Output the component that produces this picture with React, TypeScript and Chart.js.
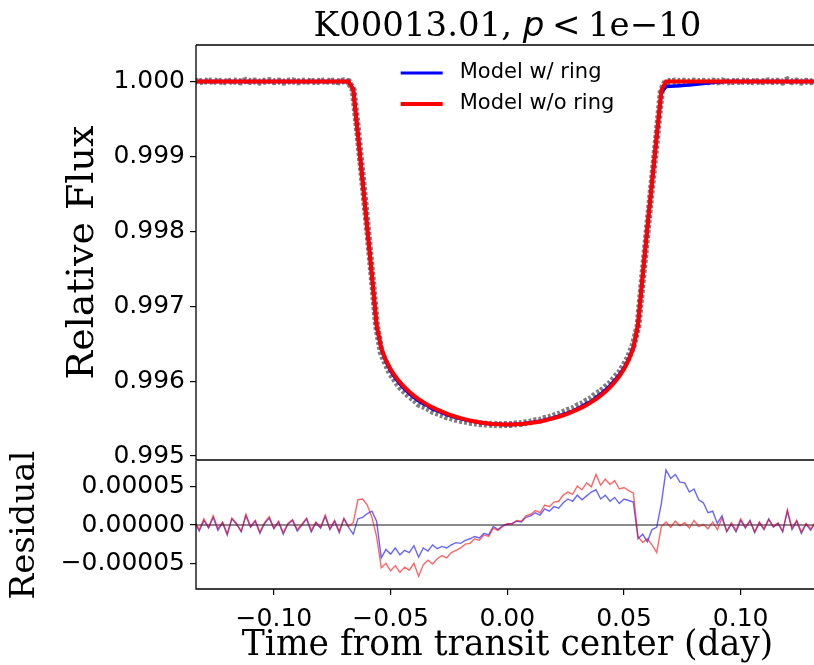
import React, { useEffect, useRef } from "react";
import { Chart, registerables } from "chart.js";

Chart.register(...registerables);

// ---------- text ----------
const TITLE_NAME = "K00013.01, ";
const TITLE_VAR = "p";
const TITLE_REL = "<";
const TITLE_VALUE = "1e\u221210";
const Y_TITLE_TOP = "Relative Flux";
const Y_TITLE_BOTTOM = "Residual";
const X_TITLE = "Time from transit center (day)";
const LEGEND_LABELS = ["Model w/ ring", "Model w/o ring"];

// ---------- data ----------
// time from transit center (day)
const times = [
  -0.134, -0.132, -0.13, -0.128, -0.126, -0.124, -0.122, -0.12, -0.118, -0.116,
  -0.114, -0.112, -0.11, -0.108, -0.106, -0.104, -0.102, -0.1, -0.098, -0.096,
  -0.094, -0.092, -0.09, -0.088, -0.086, -0.084, -0.082, -0.08, -0.078, -0.076,
  -0.074, -0.072, -0.07, -0.068, -0.066, -0.064, -0.062, -0.06, -0.058, -0.056,
  -0.054, -0.052, -0.05, -0.048, -0.046, -0.044, -0.042, -0.04, -0.038, -0.036,
  -0.034, -0.032, -0.03, -0.028, -0.026, -0.024, -0.022, -0.02, -0.018, -0.016,
  -0.014, -0.012, -0.01, -0.008, -0.006, -0.004, -0.002, 0.0, 0.002, 0.004,
  0.006, 0.008, 0.01, 0.012, 0.014, 0.016, 0.018, 0.02, 0.022, 0.024,
  0.026, 0.028, 0.03, 0.032, 0.034, 0.036, 0.038, 0.04, 0.042, 0.044,
  0.046, 0.048, 0.05, 0.052, 0.054, 0.056, 0.058, 0.06, 0.062, 0.064,
  0.066, 0.068, 0.07, 0.072, 0.074, 0.076, 0.078, 0.08, 0.082, 0.084,
  0.086, 0.088, 0.09, 0.092, 0.094, 0.096, 0.098, 0.1, 0.102, 0.104,
  0.106, 0.108, 0.11, 0.112, 0.114, 0.116, 0.118, 0.12, 0.122, 0.124,
  0.126, 0.128, 0.13, 0.132, 0.134,
];

// transit depth of the model without ring (ppm)
const depthNoRingPpm = [
  0, 0, 0, 0, 0, 0, 0, 0, 0, 0,
  0, 0, 0, 0, 0, 0, 0, 0, 0, 0,
  0, 0, 0, 0, 0, 0, 0, 0, 0, 0,
  0, 0, 0, 0, 120, 720, 1340, 1960, 2590, 3250,
  3560, 3720, 3840, 3935, 4014, 4083, 4142, 4194, 4240, 4281,
  4318, 4351, 4381, 4408, 4433, 4456, 4476, 4494, 4510, 4525,
  4538, 4549, 4558, 4566, 4572, 4576, 4579, 4580, 4579, 4576,
  4572, 4566, 4558, 4549, 4538, 4525, 4510, 4494, 4476, 4456,
  4433, 4408, 4381, 4351, 4318, 4281, 4240, 4194, 4142, 4083,
  4014, 3935, 3840, 3720, 3560, 3250, 2590, 1960, 1340, 720,
  120, 0, 0, 0, 0, 0, 0, 0, 0, 0,
  0, 0, 0, 0, 0, 0, 0, 0, 0, 0,
  0, 0, 0, 0, 0, 0, 0, 0, 0, 0,
  0, 0, 0, 0, 0,
];

// transit depth of the model with ring (ppm)
const depthRingPpm = [
  0, 0, 0, 0, 0, 0, 0, 0, 0, 0,
  0, 0, 0, 0, 0, 0, 0, 0, 0, 0,
  0, 0, 0, 0, 0, 0, 0, 0, 0, 0,
  0, 0, 0, 0, 105, 695, 1316, 1949, 2598, 3270,
  3573, 3738, 3862, 3958, 4037, 4105, 4165, 4217, 4263, 4303,
  4330, 4375, 4394, 4420, 4446, 4466, 4486, 4500, 4515, 4531,
  4541, 4552, 4560, 4568, 4574, 4577, 4580, 4579, 4580, 4575,
  4571, 4564, 4556, 4546, 4535, 4520, 4504, 4488, 4467, 4446,
  4424, 4399, 4369, 4338, 4301, 4274, 4220, 4176, 4121, 4061,
  3992, 3916, 3825, 3707, 3548, 3247, 2601, 1956, 1360, 753,
  150, 68, 64, 61, 57, 52, 47, 41, 35, 28,
  21, 14, 8, 3, 0, 0, 0, 0, 0, 0,
  0, 0, 0, 0, 0, 0, 0, 0, 0, 0,
  0, 0, 0, 0, 0,
];

// residuals (units of 1e-5)
const residNoRing = [
  0.5, -0.6, 0.8, -0.3, 1.2, -0.5, 0.4, -1.1, 0.9, 0.2,
  -0.8, 1.4, -0.2, 0.6, -0.9, 0.3, 1.1, -0.4, 0.5, -1.0,
  0.2, 0.7, -0.6, 0.1, 0.9, -0.7, 0.4, -0.3, 1.3, -0.5,
  0.6, -0.8, 0.9, -0.2, 0.3, 3.3, 3.4, 2.6, 1.0, -1.5,
  -5.6, -5.0, -6.0, -5.3, -6.2, -5.5, -5.9, -5.0, -6.7, -5.2,
  -4.6, -5.1, -4.4, -4.0, -4.3, -3.6, -3.3, -3.0, -2.5, -2.4,
  -1.8, -2.0, -1.3, -1.5, -0.4, -0.7, -0.2, 0.2, 0.1, 0.6,
  0.5, 1.2, 1.4, 1.9, 1.6, 2.6, 2.4, 3.0, 3.1, 3.9,
  4.3, 4.0, 5.1, 4.6, 5.5, 5.0, 6.6, 5.2, 6.0, 5.3,
  5.8, 4.7, 4.9, 4.5, 4.2, -1.5, -2.3, -1.8, -2.6, -3.6,
  -0.2, 0.4, -0.3, 0.5, -0.1, 0.3, -0.4, 0.6, -0.2, 0.1,
  -0.5, 0.4, -0.6, 0.9, -0.8, 0.3, -0.7, 0.8, -0.3, 0.5,
  -0.9, 0.4, -0.5, 0.7, -0.2, 0.3, -0.8, 2.0, -0.4, 0.6,
  -0.9, 0.2, -0.5, 0.4, -0.3,
];

const residRing = [
  0.4, -0.8, 0.6, -0.4, 1.0, -0.7, 0.3, -1.3, 0.8, 0.1,
  -0.9, 1.2, -0.3, 0.5, -1.1, 0.2, 0.9, -0.5, 0.4, -1.2,
  0.1, 0.6, -0.8, 0.0, 0.8, -0.9, 0.3, -0.4, 1.1, -0.6,
  0.5, -1.0, 0.8, -0.3, -1.2, 0.8, 1.0, 1.5, 1.8, 0.5,
  -4.3, -3.2, -3.8, -3.0, -3.9, -3.3, -3.6, -2.7, -4.2, -3.0,
  -3.4, -2.6, -3.1, -2.8, -3.0, -2.6, -2.3, -2.4, -2.0, -1.8,
  -1.5, -1.7, -1.1, -1.3, -0.2, -0.6, -0.1, 0.1, 0.2, 0.5,
  0.4, 1.0, 1.2, 1.6, 1.3, 2.1, 1.8, 2.4, 2.2, 2.9,
  3.4, 3.1, 3.9, 3.3, 3.8, 4.3, 4.6, 3.4, 3.9, 3.1,
  3.6, 2.8, 3.4, 3.2, 3.0, -1.8, -1.2, -2.2, -0.6, -0.3,
  2.8, 7.2, 6.1, 6.6, 5.6, 5.5, 4.3, 4.7, 3.3, 2.9,
  1.6, 1.8, 0.2, 1.2, -0.9, 0.1, -0.9, 0.6, -0.4, 0.6,
  -1.0, 0.3, -0.6, 0.8, -0.3, 0.2, -0.9, 1.8, -0.6, 0.5,
  -1.1, 0.1, -0.7, 0.3, -0.4,
];

const fluxTicks = [0.995, 0.996, 0.997, 0.998, 0.999, 1.0];
const residTicks = [-0.00005, 0, 0.00005];
const timeTicks = [-0.1, -0.05, 0, 0.05, 0.1];

const X_MIN = -0.13338;
const X_MAX = 0.13355;
const FLUX_MIN = 0.994947;
const FLUX_MAX = 1.000486;
const RESID_MIN = -0.0000836;
const RESID_MAX = 0.0000836;

// ---------- style ----------
const SERIF = "'DejaVu Serif', serif";
const SANS = "'DejaVu Sans', sans-serif";
const TICK_SIZE = 25;
const TITLE_SIZE = 34;
const BLUE = "rgb(0,0,255)";
const RED = "rgb(255,0,0)";
const Y_AXIS_WIDTH = 196;

const minusFmt = (v: number, d: number) =>
  (v < 0 && Math.abs(v) > 1e-12 ? "\u2212" : "") + Math.abs(v).toFixed(d);

function makeFramePlugin(drawTop: boolean) {
  return {
    id: "frame",
    afterDraw(chart: any) {
      const { ctx, chartArea: a } = chart;
      ctx.save();
      ctx.strokeStyle = "#000";
      ctx.lineWidth = 1.3;
      ctx.beginPath();
      if (drawTop) {
        ctx.moveTo(a.left, a.top);
        ctx.lineTo(a.right, a.top);
      }
      ctx.moveTo(a.left, a.top);
      ctx.lineTo(a.left, a.bottom);
      ctx.lineTo(a.right, a.bottom);
      ctx.lineTo(a.right, a.top);
      ctx.stroke();
      ctx.restore();
    },
  };
}

const titlePlugin = {
  id: "mixedTitle",
  afterDraw(chart: any) {
    const { ctx, chartArea: a } = chart;
    const s = TITLE_SIZE;
    const segs = [
      { text: TITLE_NAME, font: `${s}px ${SERIF}`, gap: 0 },
      { text: TITLE_VAR, font: `italic ${s}px ${SANS}`, gap: 0 },
      { text: TITLE_REL, font: `${s}px ${SANS}`, gap: 0.22 * s },
      { text: TITLE_VALUE, font: `${s}px ${SERIF}`, gap: 0.22 * s },
    ];
    ctx.save();
    let total = 0;
    const widths = segs.map((g) => {
      ctx.font = g.font;
      const w = ctx.measureText(g.text).width;
      total += w + g.gap;
      return w;
    });
    let x = (a.left + a.right) / 2 - total / 2;
    ctx.fillStyle = "#000";
    ctx.textBaseline = "alphabetic";
    ctx.textAlign = "left";
    segs.forEach((g, i) => {
      x += g.gap;
      ctx.font = g.font;
      ctx.fillText(g.text, x, 36);
      x += widths[i];
    });
    ctx.restore();
  },
};

const legendPlugin = {
  id: "innerLegend",
  afterDatasetsDraw(chart: any) {
    const { ctx, chartArea: a } = chart;
    const items = [
      { label: LEGEND_LABELS[0], color: BLUE, width: 3 },
      { label: LEGEND_LABELS[1], color: RED, width: 4 },
    ];
    ctx.save();
    ctx.font = `21px ${SANS}`;
    const textW = Math.max(...items.map((it) => ctx.measureText(it.label).width));
    const handle = 42;
    const pad = 17;
    const total = handle + pad + textW;
    const x0 = (a.left + a.right) / 2 - total / 2;
    items.forEach((it, i) => {
      const y = a.top + 28 + i * 31;
      ctx.strokeStyle = it.color;
      ctx.lineWidth = it.width;
      ctx.beginPath();
      ctx.moveTo(x0, y);
      ctx.lineTo(x0 + handle, y);
      ctx.stroke();
      ctx.fillStyle = "#000";
      ctx.textBaseline = "middle";
      ctx.textAlign = "left";
      ctx.fillText(it.label, x0 + handle + pad, y);
    });
    ctx.restore();
  },
};

const tickGrid = {
  drawOnChartArea: false,
  drawTicks: true,
  tickLength: 6,
  color: "#000",
  lineWidth: 1.2,
};

export default function App() {
  const topRef = useRef<HTMLCanvasElement>(null);
  const botRef = useRef<HTMLCanvasElement>(null);

  useEffect(() => {
    document.body.style.margin = "0";

    const modelNoRing = times.map((t, i) => ({ x: t, y: 1 - depthNoRingPpm[i] * 1e-6 }));
    const modelRing = times.map((t, i) => ({ x: t, y: 1 - depthRingPpm[i] * 1e-6 }));
    const observed = times.map((t, i) => ({
      x: t,
      y: 1 - depthNoRingPpm[i] * 1e-6 + residNoRing[i] * 1e-5,
    }));
    const resNo = times.map((t, i) => ({ x: t, y: residNoRing[i] * 1e-5 }));
    const resRing = times.map((t, i) => ({ x: t, y: residRing[i] * 1e-5 }));
    const zeroLine = [
      { x: times[0], y: 0 },
      { x: times[times.length - 1], y: 0 },
    ];

    const top = new Chart(topRef.current as HTMLCanvasElement, {
      type: "line",
      data: {
        datasets: [
          {
            label: LEGEND_LABELS[1],
            data: modelNoRing,
            borderColor: RED,
            borderWidth: 4,
            pointRadius: 0,
            tension: 0,
            order: 0,
          },
          {
            label: LEGEND_LABELS[0],
            data: modelRing,
            borderColor: BLUE,
            borderWidth: 3.5,
            pointRadius: 0,
            tension: 0,
            order: 1,
          },
          {
            label: "data",
            data: observed,
            borderColor: "rgba(55,55,55,0.65)",
            borderWidth: 7,
            borderDash: [3, 2],
            pointRadius: 0,
            tension: 0,
            order: 2,
          },
        ],
      },
      options: {
        animation: false,
        responsive: false,
        devicePixelRatio: 1,
        layout: { padding: { top: 45, bottom: 19, left: 0, right: 0 } },
        plugins: { legend: { display: false }, tooltip: { enabled: false } },
        scales: {
          x: { type: "linear", min: X_MIN, max: X_MAX, display: false },
          y: {
            type: "linear",
            min: FLUX_MIN,
            max: FLUX_MAX,
            afterFit: (s: any) => {
              s.width = Y_AXIS_WIDTH;
            },
            afterBuildTicks: (s: any) => {
              s.ticks = fluxTicks.map((value) => ({ value }));
            },
            ticks: {
              callback: (v: any) => Number(v).toFixed(3),
              font: { family: SANS, size: TICK_SIZE },
              color: "#000",
              padding: 5,
            },
            grid: tickGrid,
            border: { display: false },
            title: {
              display: true,
              text: Y_TITLE_TOP,
              font: { family: SERIF, size: 38 },
              color: "#000",
              padding: { top: 60, bottom: 0 },
            },
          },
        },
      },
      plugins: [makeFramePlugin(true), titlePlugin, legendPlugin],
    } as any);

    const bot = new Chart(botRef.current as HTMLCanvasElement, {
      type: "line",
      data: {
        datasets: [
          {
            label: "residual w/o ring",
            data: resNo,
            borderColor: "rgba(255,0,0,0.6)",
            borderWidth: 1.4,
            pointRadius: 0,
            tension: 0,
            order: 0,
          },
          {
            label: "residual w/ ring",
            data: resRing,
            borderColor: "rgba(0,0,255,0.6)",
            borderWidth: 1.4,
            pointRadius: 0,
            tension: 0,
            order: 1,
          },
          {
            label: "zero",
            data: zeroLine,
            borderColor: "rgba(60,60,60,0.8)",
            borderWidth: 1.5,
            pointRadius: 0,
            order: 2,
          },
        ],
      },
      options: {
        animation: false,
        responsive: false,
        devicePixelRatio: 1,
        layout: { padding: { top: 21, bottom: 0, left: 0, right: 0 } },
        plugins: { legend: { display: false }, tooltip: { enabled: false } },
        scales: {
          x: {
            type: "linear",
            min: X_MIN,
            max: X_MAX,
            afterFit: (s: any) => {
              s.height = 76;
            },
            afterBuildTicks: (s: any) => {
              s.ticks = timeTicks.map((value) => ({ value }));
            },
            ticks: {
              callback: (v: any) => minusFmt(Number(v), 2),
              font: { family: SANS, size: TICK_SIZE },
              color: "#000",
              padding: 9,
              maxRotation: 0,
              autoSkip: false,
            },
            grid: tickGrid,
            border: { display: false },
            title: {
              display: true,
              text: X_TITLE,
              font: { family: SERIF, size: 34.5, lineHeight: 1.1 },
              color: "#000",
              padding: { top: 0, bottom: 0 },
            },
          },
          y: {
            type: "linear",
            min: RESID_MIN,
            max: RESID_MAX,
            afterFit: (s: any) => {
              s.width = Y_AXIS_WIDTH;
            },
            afterBuildTicks: (s: any) => {
              s.ticks = residTicks.map((value) => ({ value }));
            },
            ticks: {
              callback: (v: any) => minusFmt(Number(v), 5),
              font: { family: SANS, size: TICK_SIZE },
              color: "#000",
              padding: 5,
            },
            grid: tickGrid,
            border: { display: false },
            title: {
              display: true,
              text: Y_TITLE_BOTTOM,
              font: { family: SERIF, size: 34 },
              color: "#000",
              padding: { top: 5, bottom: 0 },
            },
          },
        },
      },
      plugins: [makeFramePlugin(false)],
    } as any);

    return () => {
      top.destroy();
      bot.destroy();
    };
  }, []);

  return (
    <div
      style={{
        position: "relative",
        width: 814,
        height: 665,
        overflow: "hidden",
        background: "#fff",
      }}
    >
      <canvas
        ref={topRef}
        width={819}
        height={480}
        style={{ position: "absolute", left: 0, top: 0 }}
      />
      <canvas
        ref={botRef}
        width={819}
        height={225}
        style={{ position: "absolute", left: 0, top: 440 }}
      />
    </div>
  );
}
